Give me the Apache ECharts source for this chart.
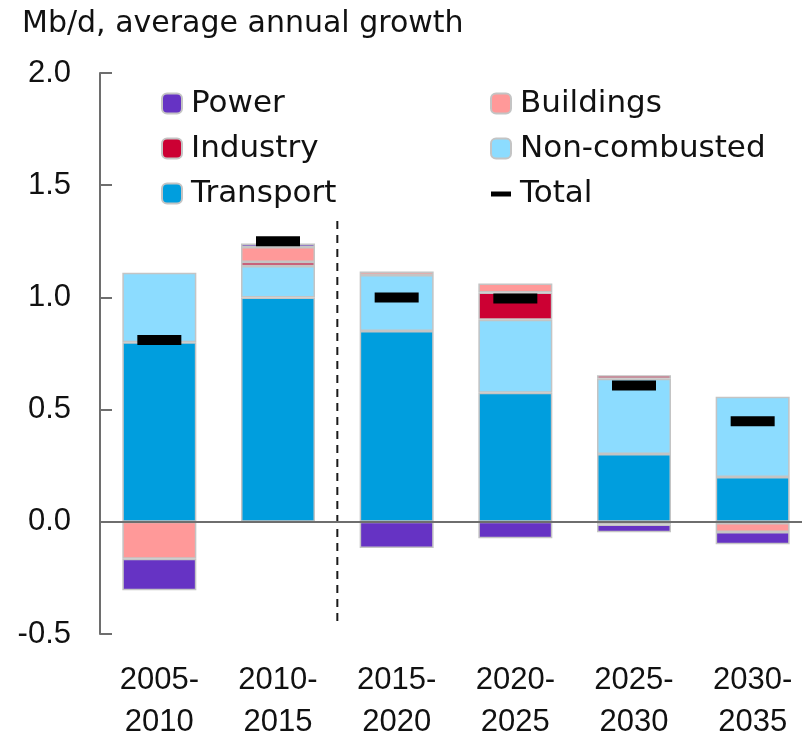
<!DOCTYPE html>
<html>
<head>
<meta charset="utf-8">
<script src="https://cdn.jsdelivr.net/npm/echarts@6/dist/echarts.min.js"></script>
<style>
  html, body { margin: 0; padding: 0; background: #fff; }
  #chart { width: 802px; height: 735px; }
</style>
</head>
<body>
<div id="chart"></div>
<script>
// categories (periods)
const periods = ['2005-\n2010', '2010-\n2015', '2015-\n2020', '2020-\n2025', '2025-\n2030', '2030-\n2035']
// mb/d average annual growth by sector
const transport = [0.80, 1.00, 0.85, 0.575, 0.302, 0.20]
const nonCombusted = [0.31, 0.14, 0.25, 0.325, 0.336, 0.357]
const industry = [null, 0.018, null, 0.122, 0.015, -0.005]
const buildings = [-0.165, 0.067, 0.015, 0.04, -0.012, -0.04]
const power = [-0.14, 0.015, -0.117, -0.073, -0.035, -0.055]
const total = [0.81, 1.25, 1.0, 0.995, 0.607, 0.448]
// divider between history and outlook (value x axis, 0..6)
const dividerX = [[2, 1.34], [2, -0.46]]

const chart = echarts.init(document.getElementById('chart'))
const numFont = 'Liberation Sans, Arial, sans-serif'
const textFont = 'DejaVu Sans, sans-serif'
const border = { borderColor: '#c4c4c4', borderWidth: 1.5 }

function barSeries(name, data, color) {
  return {
    name: name,
    type: 'bar',
    stack: 'oil',
    barWidth: 74,
    data: data,
    itemStyle: Object.assign({ color: color }, border)
  }
}

// legend columns share the same look
function legendCol(left, items) {
  return {
    left: left, top: 76, orient: 'vertical', itemGap: 0,
    itemWidth: 20, itemHeight: 20,
    textStyle: { fontSize: 31, color: '#111', fontFamily: textFont, lineHeight: 45, padding: [0, 0, 0, 4] },
    data: items
  }
}

const option = {
  animation: false,
  title: {
    text: 'Mb/d, average annual growth',
    left: 17,
    top: 4,
    textStyle: { fontSize: 30, fontWeight: 'normal', color: '#111', fontFamily: textFont }
  },
  grid: { left: 100, right: -10, top: 73, bottom: 101, outerBoundsMode: 'none' },
  legend: [
    legendCol(156, ['Power', 'Industry', 'Transport']),
    legendCol(485, [
      'Buildings', 'Non-combusted',
      { name: 'Total', icon: 'path://M0,0L0,0M0,8H20V13H0ZM20,20L20,20', itemStyle: { borderWidth: 0 } }
    ])
  ],
  xAxis: [
    {
      type: 'category',
      data: periods,
      position: 'bottom',
      axisLine: { show: false, onZero: false },
      axisTick: { show: false },
      axisLabel: { fontSize: 31, color: '#111', fontFamily: numFont, margin: 25, lineHeight: 42 }
    },
    {
      type: 'value', min: 0, max: 6, show: false
    }
  ],
  yAxis: {
    type: 'value',
    min: -0.5,
    max: 2.0,
    interval: 0.5,
    axisLine: { show: true, lineStyle: { color: '#6e6e6e', width: 2 } },
    axisTick: { show: true, inside: true, length: 12, lineStyle: { color: '#6e6e6e', width: 2 } },
    splitLine: { show: false },
    axisLabel: {
      fontSize: 31, color: '#111', fontFamily: numFont, margin: 29,
      formatter: v => v.toFixed(1)
    }
  },
  series: [
    Object.assign(barSeries('Transport', transport, '#009ede'), {
      markLine: {
        silent: true,
        symbol: 'none',
        label: { show: false },
        lineStyle: { color: '#6e6e6e', width: 2, type: 'solid' },
        data: [{ yAxis: 0 }]
      }
    }),
    barSeries('Non-combusted', nonCombusted, '#8cdcff'),
    barSeries('Industry', industry, '#cc0033'),
    barSeries('Buildings', buildings, '#ff9999'),
    barSeries('Power', power, '#6633c4'),
    {
      name: 'Total',
      type: 'scatter',
      data: total,
      symbol: 'rect',
      symbolSize: [44, 10],
      itemStyle: { color: '#000', opacity: 1 },
      z: 5
    },
    {
      name: 'divider',
      type: 'line',
      xAxisIndex: 1,
      data: dividerX,
      symbol: 'none',
      lineStyle: { color: '#1a1a1a', width: 2, type: [8, 6] },
      silent: true
    }
  ]
}

chart.setOption(option)
</script>
</body>
</html>
